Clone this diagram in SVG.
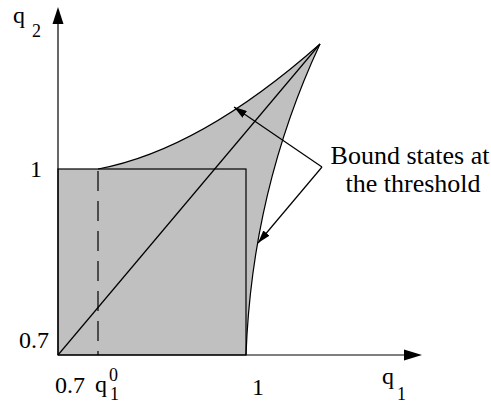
<svg xmlns="http://www.w3.org/2000/svg" width="491" height="405" viewBox="0 0 491 405">
<style>
text{font-family:"Liberation Serif","Times New Roman",serif;fill:#000}
.lbl{font-size:24px}
.note{font-size:26px}
.sub{font-size:18px}
.ln{fill:none;stroke:#000;stroke-width:1.2}
</style>
<defs>
<marker id="ah" viewBox="0 0 13 8" refX="13" refY="4" markerWidth="13" markerHeight="8" markerUnits="userSpaceOnUse" orient="auto">
<path d="M0,0 L13,4 L0,8 Z" fill="#000"/>
</marker>
</defs>
<rect width="491" height="405" fill="#fff"/>
<g id="region">
<path d="M58,355 V169 H98 Q200,150 320,44 Q252,190 246,355 Z" fill="#c0c0c0"/>
<path class="ln" d="M98,169 Q200,150 320,44"/>
<path class="ln" d="M246,355 Q252,190 320,44"/>
<rect class="ln" x="58" y="169" width="188" height="186"/>
<line class="ln" x1="98" y1="171" x2="98" y2="355" stroke-dasharray="20 10"/>
<line class="ln" x1="58" y1="355" x2="320" y2="44"/>
</g>
<g id="axes">
<line class="ln" x1="58" y1="355" x2="58" y2="22"/>
<path d="M52.5,24 L58,7 L63.5,24 Z" fill="#000"/>
<line class="ln" x1="58" y1="355" x2="406" y2="355"/>
<path d="M404,349.5 L422,355 L404,360.5 Z" fill="#000"/>
</g>
<g id="connectors">
<line class="ln" x1="322" y1="167" x2="234" y2="107" marker-end="url(#ah)"/>
<line class="ln" x1="322" y1="167" x2="258" y2="243" marker-end="url(#ah)"/>
</g>
<g id="labels">
<text class="lbl" x="13" y="23">q</text><text class="sub" x="32" y="37">2</text>
<text class="lbl" x="30" y="177">1</text>
<text class="lbl" x="19" y="348">0.7</text>
<text class="lbl" x="55" y="393">0.7</text>
<text class="lbl" x="95" y="392">q</text><text class="sub" x="109" y="381">0</text><text class="sub" x="110" y="400">1</text>
<text class="lbl" x="252" y="395">1</text>
<text class="lbl" x="382" y="384">q</text><text class="sub" x="397" y="400">1</text>
</g>
<g id="note">
<text class="note" x="410" y="164" text-anchor="middle">Bound states at</text>
<text class="note" x="413" y="192" text-anchor="middle">the threshold</text>
</g>
</svg>
